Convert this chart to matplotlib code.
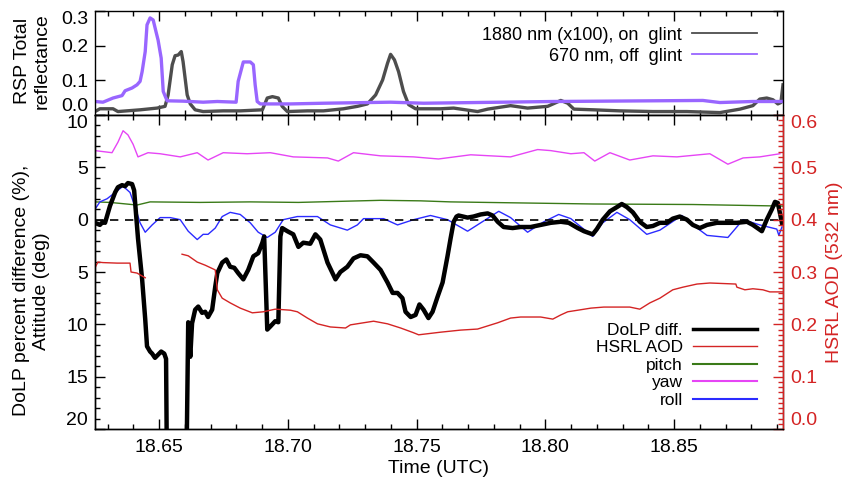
import numpy as np
import matplotlib
matplotlib.use("Agg")
import matplotlib.pyplot as plt
from matplotlib.ticker import MultipleLocator, FuncFormatter, FormatStrFormatter
from matplotlib.lines import Line2D

plt.rcParams['font.family'] = ['Liberation Sans', 'DejaVu Sans']

# ---- top panel: RSP total reflectance ----
refl_1880_t = [18.6251, 18.6270, 18.6321, 18.6340, 18.6426, 18.6492, 18.6523, 18.6535, 18.6551, 18.6562,
               18.6574, 18.6586, 18.6593, 18.6609, 18.6621, 18.6640, 18.6671, 18.6749, 18.6815, 18.6901,
               18.6920, 18.6940, 18.6963, 18.6978, 18.6998, 18.7076, 18.7138, 18.7216, 18.7270, 18.7309,
               18.7341, 18.7368, 18.7387, 18.7399, 18.7414, 18.7430, 18.7449, 18.7469, 18.7496, 18.7593,
               18.7644, 18.7737, 18.7776, 18.7865, 18.7931, 18.8009, 18.8060, 18.8087, 18.8111, 18.8188,
               18.8290, 18.8418, 18.8550, 18.8678, 18.8756, 18.8806, 18.8833, 18.8860, 18.8884, 18.8903,
               18.8915, 18.8923]
refl_1880 = [0.010, 0.018, 0.018, 0.010, 0.015, 0.020, 0.025, 0.058, 0.145, 0.171,
             0.173, 0.183, 0.154, 0.058, 0.032, 0.015, 0.010, 0.012, 0.012, 0.015,
             0.049, 0.053, 0.049, 0.025, 0.010, 0.012, 0.012, 0.018, 0.025, 0.032,
             0.058, 0.101, 0.149, 0.175, 0.159, 0.125, 0.068, 0.030, 0.018, 0.018,
             0.020, 0.010, 0.017, 0.027, 0.020, 0.025, 0.042, 0.034, 0.017, 0.015,
             0.012, 0.010, 0.010, 0.007, 0.017, 0.027, 0.046, 0.049, 0.044, 0.032,
             0.036, 0.087]

refl_670_t = [18.6251, 18.6282, 18.6321, 18.6356, 18.6368, 18.6395, 18.6414, 18.6426, 18.6434, 18.6446,
              18.6453, 18.6465, 18.6477, 18.6488, 18.6496, 18.6508, 18.6516, 18.6531, 18.6593, 18.6671,
              18.6726, 18.6799, 18.6807, 18.6827, 18.6854, 18.6866, 18.6873, 18.6881, 18.6893, 18.7010,
              18.7138, 18.7399, 18.7527, 18.8033, 18.8612, 18.8678, 18.8806, 18.8923]
refl_670 = [0.039, 0.037, 0.049, 0.056, 0.070, 0.078, 0.087, 0.097, 0.125, 0.183,
            0.260, 0.280, 0.274, 0.240, 0.216, 0.164, 0.068, 0.041, 0.040, 0.037,
            0.039, 0.037, 0.097, 0.153, 0.153, 0.145, 0.087, 0.039, 0.032, 0.032,
            0.034, 0.037, 0.034, 0.039, 0.042, 0.036, 0.039, 0.039]

# ---- bottom panel ----
dolp_t = [18.6251, 18.6270, 18.6282, 18.6290, 18.6309, 18.6329, 18.6340, 18.6356, 18.6368, 18.6379,
          18.6395, 18.6403, 18.6407, 18.6418, 18.6434, 18.6446, 18.6453, 18.6465, 18.6473, 18.6484,
          18.6496, 18.6508, 18.6520, 18.6527, 18.6531, 18.6605, 18.6613, 18.6621, 18.6628, 18.6640,
          18.6652, 18.6667, 18.6679, 18.6690, 18.6706, 18.6718, 18.6726, 18.6745, 18.6761, 18.6776,
          18.6792, 18.6807, 18.6827, 18.6846, 18.6866, 18.6885, 18.6901, 18.6908, 18.6920, 18.6932,
          18.6951, 18.6963, 18.6971, 18.6978, 18.6998, 18.7021, 18.7041, 18.7060, 18.7087, 18.7107,
          18.7126, 18.7154, 18.7185, 18.7204, 18.7231, 18.7255, 18.7282, 18.7309, 18.7333, 18.7360,
          18.7387, 18.7407, 18.7426, 18.7445, 18.7457, 18.7477, 18.7496, 18.7511, 18.7527, 18.7546,
          18.7562, 18.7581, 18.7601, 18.7620, 18.7632, 18.7644, 18.7655, 18.7663, 18.7698, 18.7721,
          18.7749, 18.7776, 18.7795, 18.7815, 18.7838, 18.7873, 18.7904, 18.7943, 18.7982, 18.8021,
          18.8060, 18.8091, 18.8126, 18.8150, 18.8184, 18.8200, 18.8223, 18.8251, 18.8278, 18.8297,
          18.8317, 18.8340, 18.8367, 18.8394, 18.8418, 18.8445, 18.8472, 18.8495, 18.8522, 18.8550,
          18.8573, 18.8600, 18.8628, 18.8666, 18.8705, 18.8744, 18.8783, 18.8806, 18.8841, 18.8860,
          18.8880, 18.8892, 18.8903, 18.8919]
dolp_diff = [-0.3, -0.5, -0.2, -0.3, 1.3, 2.6, 3.1, 3.3, 3.2, 3.5,
             3.4, 2.8, 1.6, -1.8, -5.7, -9.5, -12.1, -12.6, -12.8, -13.2,
             -12.9, -12.6, -12.8, -13.3, -26.0, -26.0, -9.8, -13.1, -9.9, -8.6,
             -8.3, -8.9, -8.8, -9.3, -8.6, -6.4, -5.1, -4.1, -3.8, -4.5,
             -4.6, -5.1, -5.7, -4.8, -3.5, -3.2, -2.2, -1.6, -10.5, -10.2,
             -9.7, -9.8, -1.6, -0.8, -1.1, -1.4, -2.6, -2.2, -2.3, -1.4,
             -1.9, -4.1, -5.7, -5.0, -4.5, -3.7, -3.4, -3.5, -4.1, -4.8,
             -6.0, -7.0, -7.0, -7.5, -8.8, -9.3, -9.1, -8.1, -8.6, -9.4,
             -8.8, -7.4, -6.0, -3.5, -1.8, -0.2, 0.3, 0.4, 0.2, 0.3,
             0.5, 0.6, 0.4, -0.2, -0.7, -0.8, -0.7, -0.7, -0.5, -0.3,
             -0.2, -0.3, -0.8, -1.1, -1.4, -0.9, 0.0, 0.8, 1.2, 1.5,
             1.2, 0.7, -0.2, -0.7, -0.6, -0.3, -0.3, 0.1, 0.3, 0.0,
             -0.5, -0.8, -0.5, -0.3, -0.3, -0.3, -0.2, -0.5, -1.1, 0.0,
             1.0, 1.7, 1.6, -0.3]

aod_t = [18.6251, 18.6262, 18.6282, 18.6337, 18.6387, 18.6391, 18.6414, 18.6446, 18.6500, 18.6589,
         18.6613, 18.6648, 18.6679, 18.6718, 18.6726, 18.6745, 18.6776, 18.6815, 18.6862, 18.6905,
         18.6951, 18.6982, 18.7010, 18.7037, 18.7076, 18.7115, 18.7165, 18.7224, 18.7243, 18.7294,
         18.7333, 18.7387, 18.7438, 18.7488, 18.7508, 18.7542, 18.7593, 18.7671, 18.7737, 18.7776,
         18.7815, 18.7865, 18.7904, 18.7982, 18.8029, 18.8060, 18.8087, 18.8126, 18.8177, 18.8227,
         18.8278, 18.8328, 18.8367, 18.8406, 18.8445, 18.8495, 18.8534, 18.8589, 18.8639, 18.8690,
         18.8740, 18.8744, 18.8775, 18.8806, 18.8845, 18.8872, 18.8923]
hsrl_aod = [0.308, 0.319, 0.318, 0.317, 0.317, 0.300, 0.298, 0.289, np.nan, 0.334,
            0.331, 0.319, 0.313, 0.304, 0.266, 0.250, 0.241, 0.231, 0.222, 0.224,
            0.229, 0.228, 0.227, 0.224, 0.212, 0.201, 0.195, 0.193, 0.199, 0.203,
            0.206, 0.201, 0.193, 0.184, 0.180, 0.182, 0.185, 0.189, 0.191, 0.197,
            0.203, 0.212, 0.214, 0.214, 0.210, 0.218, 0.224, 0.227, 0.231, 0.233,
            0.233, 0.233, 0.229, 0.241, 0.250, 0.266, 0.271, 0.277, 0.279, 0.278,
            0.277, 0.271, 0.266, 0.268, 0.266, 0.262, 0.262]

pitch_t = [18.6251, 18.6309, 18.6414, 18.6465, 18.6659, 18.6854, 18.7041, 18.7360, 18.7515, 18.7632,
           18.7904, 18.8184, 18.8573, 18.8923]
pitch = [1.7, 1.65, 1.4, 1.7, 1.65, 1.7, 1.65, 1.85, 1.8, 1.7,
         1.6, 1.5, 1.45, 1.3]

yaw_t = [18.6251, 18.6317, 18.6340, 18.6360, 18.6379, 18.6399, 18.6418, 18.6457, 18.6504, 18.6582,
         18.6648, 18.6690, 18.6749, 18.6842, 18.6932, 18.7021, 18.7154, 18.7196, 18.7255, 18.7360,
         18.7488, 18.7585, 18.7710, 18.7865, 18.7970, 18.8021, 18.8099, 18.8150, 18.8192, 18.8251,
         18.8328, 18.8418, 18.8511, 18.8639, 18.8709, 18.8768, 18.8833, 18.8911]
yaw = [6.6, 6.4, 7.4, 8.5, 8.1, 7.2, 6.0, 6.4, 6.3, 6.0,
       6.4, 5.7, 6.4, 6.3, 6.4, 6.0, 5.9, 5.6, 6.4, 6.1,
       6.0, 5.8, 6.2, 6.0, 6.7, 6.6, 6.3, 6.4, 5.6, 6.4,
       5.7, 6.1, 6.0, 6.3, 5.3, 5.9, 6.0, 6.3]

roll_t = [18.6251, 18.6270, 18.6298, 18.6329, 18.6360, 18.6387, 18.6407, 18.6426, 18.6446, 18.6473,
          18.6504, 18.6543, 18.6582, 18.6613, 18.6648, 18.6671, 18.6690, 18.6718, 18.6745, 18.6776,
          18.6815, 18.6854, 18.6885, 18.6920, 18.6951, 18.6982, 18.7037, 18.7115, 18.7165, 18.7231,
          18.7270, 18.7294, 18.7372, 18.7426, 18.7488, 18.7554, 18.7620, 18.7698, 18.7749, 18.7819,
          18.7865, 18.7931, 18.7994, 18.8052, 18.8099, 18.8184, 18.8223, 18.8278, 18.8328, 18.8394,
          18.8445, 18.8530, 18.8573, 18.8628, 18.8709, 18.8768, 18.8833, 18.8899, 18.8907, 18.8919]
roll = [1.0, 1.7, 2.0, 2.6, 3.2, 2.6, 1.2, -0.3, -1.2, -0.5,
        0.2, 0.2, 0.0, -1.1, -1.9, -1.4, -1.4, -0.8, 0.3, 0.7,
        0.5, -0.3, -1.2, -1.7, -1.2, 0.0, 0.3, 0.3, -0.5, -1.0,
        -0.5, 0.1, 0.1, -0.5, 0.0, 0.4, 0.0, -1.1, -0.3, 0.8,
        0.2, -1.2, -0.2, 0.5, 0.1, -1.6, -0.3, 0.7, 0.0, -1.4,
        -1.0, 0.4, -0.5, -1.5, -1.7, 0.0, -0.5, -0.9, -1.5, -0.7]

legend_top = ['1880 nm (x100), on  glint', '670 nm, off  glint']
legend_bottom = ['DoLP diff.', 'HSRL AOD', 'pitch', 'yaw', 'roll']

GRAY = '#4d4d4d'
PURPLE = '#9966ff'
RED = '#d42424'
GREEN = '#3a7a18'
MAGENTA = '#e645f5'
BLUE = '#2b2bff'
FS = 14

fig = plt.figure(figsize=(8.46, 4.88), dpi=100)
ax1 = fig.add_axes([0.1123, 0.7643, 0.8132, 0.2132])
ax2 = fig.add_axes([0.1123, 0.1209, 0.8132, 0.6434])
ax3 = ax2.twinx()

xlim = (18.6251, 18.8923)

# top panel
ax1.plot(refl_1880_t, refl_1880, color=GRAY, lw=2.4)
ax1.plot(refl_670_t, refl_670, color=PURPLE, lw=2.4)
ax1.set_xlim(*xlim)
ax1.set_ylim(0, 0.3)
ax1.set_yticks([0.0, 0.1, 0.2, 0.3])
ax1.yaxis.set_major_formatter(FormatStrFormatter('%.1f'))
ax1.xaxis.set_major_locator(MultipleLocator(0.05))
ax1.xaxis.set_minor_locator(MultipleLocator(0.01))
ax1.tick_params(axis='both', which='both', direction='in', top=True, right=True, labelbottom=False, labelsize=FS, pad=5)
ax1.tick_params(which='major', length=7, width=1)
ax1.tick_params(which='minor', length=3.5, width=1)
ax1.set_ylabel('RSP Total\nreflectance', fontsize=FS)
ax1.yaxis.set_label_coords(-0.064, 0.52)
top_handles = [Line2D([], [], color=GRAY, lw=1.3), Line2D([], [], color=PURPLE, lw=1.3)]
ax1.legend(top_handles, legend_top, loc='upper right', bbox_to_anchor=(0.962, 0.85), frameon=False,
           markerfirst=False, fontsize=13, handlelength=3.6, handletextpad=0.55, labelspacing=0.22,
           borderpad=0, borderaxespad=0)

# bottom panel
ax2.plot(pitch_t, pitch, color=GREEN, lw=1.0)
ax2.plot(yaw_t, yaw, color=MAGENTA, lw=1.0)
ax2.plot(roll_t, roll, color=BLUE, lw=1.0)
ax2.axhline(0, color='black', lw=1.2, ls=(0, (5, 4)))
ax2.plot(dolp_t, dolp_diff, color='black', lw=3.2, solid_joinstyle='round')
ax2.set_xlim(*xlim)
ax2.set_ylim(-20, 10)
ax2.set_yticks([10, 5, 0, -5, -10, -15, -20])
ax2.yaxis.set_major_formatter(FuncFormatter(lambda v, p: f"{abs(v):g}"))
ax2.yaxis.set_minor_locator(MultipleLocator(1))
ax2.xaxis.set_major_locator(MultipleLocator(0.05))
ax2.xaxis.set_minor_locator(MultipleLocator(0.01))
ax2.xaxis.set_major_formatter(FormatStrFormatter('%.2f'))
ax2.tick_params(axis='both', which='both', direction='in', top=True, right=False, labelsize=FS)
ax2.tick_params(axis='y', pad=5)
ax2.tick_params(axis='x', pad=7)
ax2.tick_params(which='major', length=7, width=1)
ax2.tick_params(which='minor', length=3.5, width=1)
ax2.set_xlabel('Time (UTC)', fontsize=FS, labelpad=3)
ax2.set_ylabel('DoLP percent difference (%),\nAttitude (deg)', fontsize=FS)
ax2.yaxis.set_label_coords(-0.066, 0.44)

ax3.plot(aod_t, hsrl_aod, color=RED, lw=1.0)
ax3.set_ylim(0, 0.6)
ax3.set_yticks([0.0, 0.1, 0.2, 0.3, 0.4, 0.5, 0.6])
ax3.yaxis.set_major_formatter(FormatStrFormatter('%.1f'))
ax3.yaxis.set_minor_locator(MultipleLocator(0.01))
ax3.tick_params(axis='y', which='both', direction='in', colors=RED, labelsize=FS, pad=5)
ax3.tick_params(which='major', length=7, width=1)
ax3.tick_params(which='minor', length=3.5, width=1)
ax3.spines['right'].set_color(RED)
ax3.set_ylabel('HSRL AOD (532 nm)', color=RED, fontsize=FS)
ax3.yaxis.set_label_coords(1.062, 0.5)

for a in (ax1, ax2, ax3):
    for s in a.spines.values():
        s.set_linewidth(1.0)

# keep end labels inside the axes span
l1 = ax1.get_yticklabels()
l1[0].set_va('bottom'); l1[-1].set_va('top')
l2 = ax2.get_yticklabels()
l2[0].set_va('top'); l2[-1].set_va('bottom')
l3 = ax3.get_yticklabels()
l3[0].set_va('bottom'); l3[-1].set_va('top')

handles = [Line2D([], [], color='black', lw=2.5),
           Line2D([], [], color=RED, lw=1.0),
           Line2D([], [], color=GREEN, lw=1.5),
           Line2D([], [], color=MAGENTA, lw=1.5),
           Line2D([], [], color=BLUE, lw=1.5)]
ax3.legend(handles, legend_bottom, loc='upper right', bbox_to_anchor=(0.962, 0.338), frameon=False,
           markerfirst=False, fontsize=12.5, handlelength=3.7, handletextpad=0.55, labelspacing=0.13,
           borderpad=0, borderaxespad=0)

fig.savefig('out.png', dpi=100)
